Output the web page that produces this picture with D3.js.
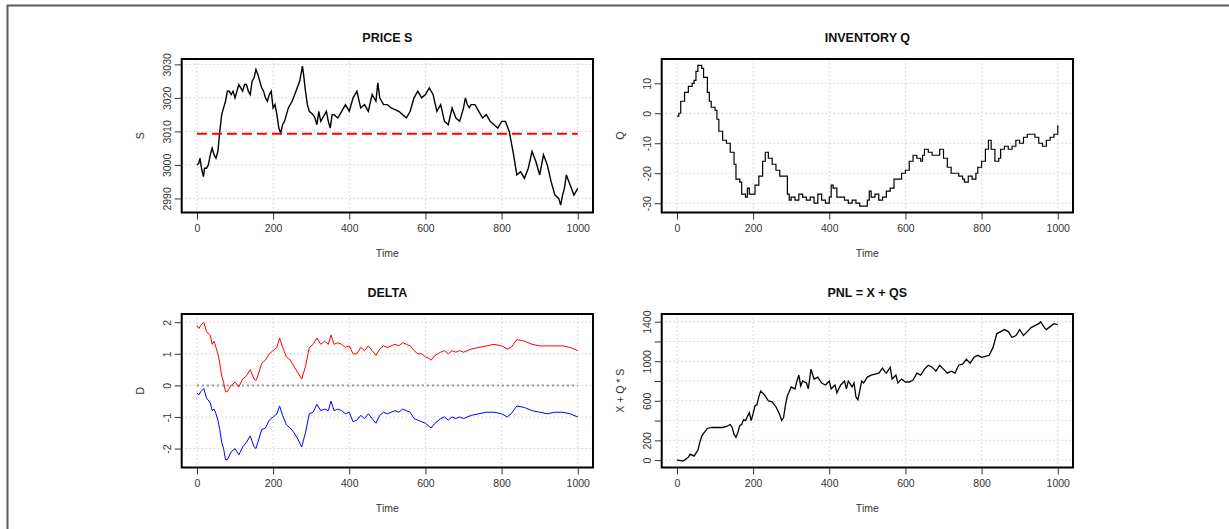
<!DOCTYPE html>
<html><head><meta charset="utf-8">
<script src="https://cdn.jsdelivr.net/npm/d3@7"></script>
<style>
body{margin:0;background:#fff;}
text{font-family:"Liberation Sans",Arial,sans-serif;}
</style></head>
<body><svg id="c" width="1229" height="529"></svg>
<script>
// ---------- DATA ----------
const xTicks = [0, 200, 400, 600, 800, 1000];

const priceT = [0,5,8,12,17,20,25,30,35,40,45,50,55,60,65,70,75,80,85,90,95,100,105,110,115,120,125,130,135,140,145,150,155,160,165,170,175,180,185,190,195,200,205,210,215,220,225,230,240,250,260,270,277,280,285,290,295,300,305,310,315,320,325,330,340,345,350,355,360,370,380,390,400,410,420,430,440,450,460,470,475,480,485,490,500,510,520,530,540,550,560,570,580,590,600,610,620,630,640,650,660,670,680,690,700,705,710,715,720,730,740,750,760,770,780,790,800,810,820,830,840,850,860,870,880,890,900,910,920,930,940,950,955,960,965,970,980,990,1000];
const priceS = [3000,3000.5,3002,2999,2996.5,2999,2999,3000,3003,3005,3003,3002,3004,3010,3015,3017,3019,3022,3022,3021,3022,3020,3022,3024,3023,3022,3024,3024,3022,3021,3025,3026,3028.5,3027,3025,3023,3022,3020,3019,3021,3022,3017,3018,3015,3011,3009.5,3012,3013,3017,3019,3022,3025,3029.5,3027,3022,3018,3016,3015.5,3015,3014,3012,3016,3013,3014,3016,3013,3011,3015,3015,3014,3016,3018,3016,3020,3022,3017,3018,3016,3021,3019,3024.5,3020,3019,3018,3018,3017,3016.5,3016,3015,3014,3016,3020,3022,3020,3021,3023,3021,3016,3018,3013,3012,3017,3014,3013,3017,3020,3018,3017,3018,3018,3016,3014,3015,3013,3012,3011,3013,3013,3010,3004,2997,2998,2996,2999,3004,3001,2997,3003,3000,2995,2991,2990,2988,2991,2993,2997,2994,2991,2993];
const strikeLevel = 3009.3;
const priceTicks = [2990, 3000, 3010, 3020, 3030];

const invT = [0,5,10,20,30,40,45,50,55,65,70,80,85,90,100,105,110,120,130,140,150,155,165,170,180,185,190,200,205,215,225,232,240,250,260,270,280,290,295,300,310,320,330,340,350,360,370,380,390,400,405,410,420,430,440,450,460,470,480,490,500,505,510,520,530,540,550,560,570,580,590,600,610,620,630,640,645,650,660,670,680,690,700,710,720,730,740,750,755,765,775,785,790,800,810,818,825,835,845,850,860,870,880,890,900,910,920,930,940,950,960,970,980,990,1000];
const invQ = [-1,0,4,7,9,10,11,14,16,15,12,7,4,2,1,-2,-6,-9,-10,-13,-17,-22,-23,-27,-28,-25,-27,-27,-24,-21,-16,-13,-15,-17,-19,-21,-21,-27,-29,-28,-29,-27,-28,-29,-28,-30,-27,-29,-30,-28,-24,-25,-28,-28,-29,-30,-29,-30,-31,-31,-29,-26,-28,-27,-29,-28,-26,-25,-22,-22,-20,-19,-16,-14,-15,-16,-14,-12,-13,-14,-14,-12,-15,-18,-20,-20,-21,-22,-23,-21,-22,-20,-18,-16,-12,-9,-12,-16,-15,-12,-11,-12,-11,-9,-10,-8,-7,-7,-8,-10,-11,-9,-8,-7,-4];
const invTicks = [-30, -20, -10, 0, 10];

const deltaT = [0,5,10,18,25,35,40,45,50,55,60,65,70,75,80,90,100,110,120,130,140,150,155,160,170,180,190,200,210,217,225,235,245,255,265,275,285,295,305,315,325,335,345,352,360,370,380,390,400,410,420,430,440,450,460,470,480,490,500,510,520,530,540,550,560,570,580,590,600,610,615,625,640,650,660,670,680,690,700,720,740,760,780,800,815,825,840,860,880,900,920,940,960,980,1000];
const deltaAsk = [1.9,1.8,1.9,2.0,1.7,1.6,1.3,1.4,1.2,1.0,0.7,0.3,0.1,-0.2,-0.2,0.0,0.1,-0.05,0.2,0.3,0.5,0.2,0.15,0.3,0.7,0.8,1.0,1.1,1.2,1.5,1.2,0.9,0.8,0.6,0.4,0.2,0.6,1.2,1.3,1.5,1.3,1.4,1.3,1.6,1.3,1.35,1.3,1.2,1.25,1.0,1.0,1.2,1.1,1.25,1.1,0.95,1.15,1.25,1.2,1.25,1.3,1.25,1.35,1.3,1.25,1.1,1.0,1.0,0.9,0.85,0.8,0.95,1.05,1.1,1.0,1.1,1.05,1.1,1.05,1.15,1.2,1.25,1.3,1.25,1.15,1.2,1.45,1.4,1.3,1.25,1.25,1.25,1.25,1.2,1.1];
const deltaBid = [-0.25,-0.3,-0.2,-0.1,-0.4,-0.55,-0.8,-0.75,-0.9,-1.1,-1.4,-1.8,-2.0,-2.35,-2.35,-2.1,-2.0,-2.2,-1.95,-1.8,-1.6,-1.95,-2.0,-1.8,-1.4,-1.35,-1.1,-1.0,-0.9,-0.65,-0.95,-1.25,-1.35,-1.5,-1.7,-1.95,-1.5,-0.9,-0.85,-0.6,-0.8,-0.75,-0.8,-0.5,-0.8,-0.75,-0.8,-0.9,-0.85,-1.15,-1.1,-0.95,-1.05,-0.9,-1.05,-1.2,-0.95,-0.85,-0.9,-0.85,-0.8,-0.85,-0.75,-0.8,-0.85,-1.05,-1.1,-1.15,-1.2,-1.3,-1.35,-1.2,-1.05,-1.0,-1.1,-1.0,-1.05,-1.0,-1.05,-0.95,-0.9,-0.85,-0.85,-0.9,-1.0,-0.9,-0.65,-0.7,-0.8,-0.85,-0.9,-0.85,-0.85,-0.9,-1.0];
const deltaTicks = [-2, -1, 0, 1, 2];

const pnlT = [0,10,15,20,30,35,40,45,50,55,60,65,70,80,90,100,110,120,130,140,145,150,155,160,165,170,175,180,190,195,200,205,210,215,220,230,240,250,260,270,275,280,285,290,300,310,315,320,325,330,340,345,352,360,370,380,390,400,405,415,420,430,440,445,450,460,465,470,475,480,485,490,500,510,520,530,540,545,550,560,565,575,580,590,600,610,620,630,640,650,660,670,680,690,700,710,720,730,740,750,760,770,780,790,800,810,820,830,840,850,860,870,880,890,900,910,920,930,940,950,955,965,970,980,990,1000];
const pnlV = [0,-5,-10,0,30,60,50,40,70,100,180,240,270,320,330,330,330,330,340,360,330,260,230,280,350,360,410,400,480,400,470,550,560,640,700,660,600,590,540,460,400,430,560,650,740,720,800,860,750,800,780,720,920,820,840,780,760,800,720,760,680,760,800,720,800,740,780,640,610,700,800,780,840,860,870,880,930,900,880,940,820,860,780,820,790,790,810,880,860,920,960,940,900,960,920,880,900,880,960,970,1020,980,1040,1060,1040,1050,1060,1140,1280,1300,1320,1300,1240,1260,1320,1260,1300,1340,1360,1380,1400,1340,1320,1350,1380,1370];
const pnlTicks = [0, 200, 400, 600, 800, 1000, 1200, 1400];
const pnlLabels = [0, 200, 600, 1000, 1400];

// ---------- DRAW ----------
const svg = d3.select("#c");
svg.append("rect").attr("width",1229).attr("height",529).attr("fill","#fff");
// outer frame
svg.append("path").attr("d","M7.5,529 V5.5 H1229").attr("fill","none").attr("stroke","#5a5a5a").attr("stroke-width",2);

const cols = [181.7, 661.7], colW = 411.3;
const rows = [59, 314], rowH = 153.5;

function panel(cx, ry, cfg) {
  const x = d3.scaleLinear().domain([-40, 1040]).range([cx, cx + colW]);
  const y = d3.scaleLinear().domain(cfg.ydom).range([ry + rowH, ry]);
  const g = svg.append("g");
  // grid
  g.selectAll(".gx").data(xTicks).enter().append("line")
    .attr("x1", d => x(d)).attr("x2", d => x(d)).attr("y1", ry).attr("y2", ry + rowH)
    .attr("stroke", "#cfcfcf").attr("stroke-dasharray", "1.5,2.5").attr("stroke-width", 1);
  g.selectAll(".gy").data(cfg.yticks).enter().append("line")
    .attr("y1", d => y(d)).attr("y2", d => y(d)).attr("x1", cx).attr("x2", cx + colW)
    .attr("stroke", "#cfcfcf").attr("stroke-dasharray", "1.5,2.5").attr("stroke-width", 1);
  // content
  cfg.draw(g, x, y);
  // axes
  const ax = g.append("g").attr("transform", `translate(0,${ry + rowH})`)
    .call(d3.axisBottom(x).tickValues(xTicks).tickFormat(d3.format("d")).tickSize(7).tickSizeOuter(0).tickPadding(5));
  ax.select(".domain").attr("d", `M${x(0)},0H${x(1000)}`).attr("stroke","#333");
  ax.selectAll(".tick line").attr("stroke","#333");
  ax.selectAll("text").attr("font-size", 10.5).attr("fill", "#333");
  const labelSet = cfg.ylabels || cfg.yticks;
  const ay = g.append("g").attr("transform", `translate(${cx},0)`)
    .call(d3.axisLeft(y).tickValues(cfg.yticks).tickSize(7).tickSizeOuter(0)
      .tickFormat(d => labelSet.includes(d) ? String(d) : ""));
  ay.select(".domain").attr("d", `M0,${y(cfg.yticks[0])}V${y(cfg.yticks[cfg.yticks.length-1])}`).attr("stroke","#333");
  ay.selectAll(".tick line").attr("stroke","#333");
  ay.selectAll("text").attr("font-size", 10.5).attr("fill", "#333")
    .attr("text-anchor", "middle").attr("x", 0).attr("dy", 0)
    .attr("transform", "translate(-15,0) rotate(-90)")
    .attr("dominant-baseline", "central");
  // box
  g.append("rect").attr("x", cx).attr("y", ry).attr("width", colW).attr("height", rowH)
    .attr("fill", "none").attr("stroke", "#000").attr("stroke-width", 2);
  // title
  g.append("text").attr("x", cx + colW / 2).attr("y", ry - 17).attr("text-anchor", "middle")
    .attr("font-weight", "bold").attr("font-size", 12.5).attr("fill", "#111").text(cfg.title);
  // x label
  g.append("text").attr("x", cx + colW / 2).attr("y", ry + rowH + 44).attr("text-anchor", "middle")
    .attr("font-size", 10.5).attr("fill", "#333").text("Time");
  // y label
  g.append("text").attr("transform", `translate(${cx - 38},${ry + rowH / 2}) rotate(-90)`)
    .attr("text-anchor", "middle").attr("font-size", 10.5).attr("fill", "#333").text(cfg.ylab);
}

const lineOf = (T, V, x, y, curve) => d3.line().x((d, i) => x(T[i])).y(d => y(d)).curve(curve || d3.curveLinear)(V);

panel(cols[0], rows[0], {
  title: "PRICE S", ylab: "S", ydom: [2985.8, 3031.6], yticks: priceTicks,
  draw: (g, x, y) => {
    g.append("path").attr("d", lineOf(priceT, priceS, x, y)).attr("fill", "none")
      .attr("stroke", "#000").attr("stroke-width", 1.4);
    g.append("line").attr("x1", x(0)).attr("x2", x(1000)).attr("y1", y(strikeLevel)).attr("y2", y(strikeLevel))
      .attr("stroke", "#ff0000").attr("stroke-width", 2).attr("stroke-dasharray", "10,5");
  }
});
panel(cols[1], rows[0], {
  title: "INVENTORY Q", ylab: "Q", ydom: [-33.1, 18.1], yticks: invTicks,
  draw: (g, x, y) => {
    g.append("path").attr("d", lineOf(invT, invQ, x, y, d3.curveStepAfter)).attr("fill", "none")
      .attr("stroke", "#000").attr("stroke-width", 1.2);
  }
});
panel(cols[0], rows[1], {
  title: "DELTA", ylab: "D", ydom: [-2.6, 2.26], yticks: deltaTicks,
  draw: (g, x, y) => {
    g.append("line").attr("x1", x(0)).attr("x2", x(1000)).attr("y1", y(0)).attr("y2", y(0))
      .attr("stroke", "#999").attr("stroke-width", 2).attr("stroke-dasharray", "2,3");
    g.append("path").attr("d", lineOf(deltaT, deltaAsk, x, y)).attr("fill", "none")
      .attr("stroke", "#ff0000").attr("stroke-width", 1);
    g.append("path").attr("d", lineOf(deltaT, deltaBid, x, y)).attr("fill", "none")
      .attr("stroke", "#0000ff").attr("stroke-width", 1);
  }
});
panel(cols[1], rows[1], {
  title: "PNL = X + QS", ylab: "X + Q * S", ydom: [-74.7, 1477.8], yticks: pnlTicks, ylabels: pnlLabels,
  draw: (g, x, y) => {
    g.append("path").attr("d", lineOf(pnlT, pnlV, x, y)).attr("fill", "none")
      .attr("stroke", "#000").attr("stroke-width", 1.3);
  }
});
</script></body></html>
